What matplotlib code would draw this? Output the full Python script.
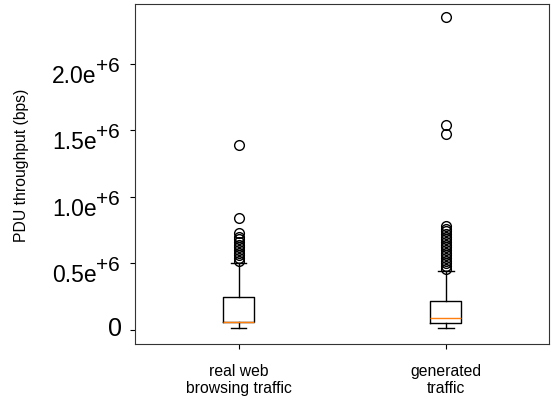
import matplotlib
matplotlib.use("Agg")
import matplotlib.pyplot as plt
from matplotlib.ticker import FixedLocator, NullFormatter

# box statistics (bps)
labels = ["real web\nbrowsing traffic", "generated\ntraffic"]
whislo = [0.015e6, 0.015e6]
q1 = [0.06e6, 0.05e6]
med = [0.06e6, 0.09e6]
q3 = [0.248e6, 0.22e6]
whishi = [0.50e6, 0.44e6]
fliers_real = [0.52e6, 0.54e6, 0.56e6, 0.58e6, 0.60e6, 0.62e6, 0.64e6,
               0.66e6, 0.68e6, 0.70e6, 0.73e6, 0.84e6, 1.39e6]
fliers_gen = [0.46e6, 0.48e6, 0.50e6, 0.52e6, 0.54e6, 0.56e6, 0.58e6,
              0.60e6, 0.62e6, 0.64e6, 0.66e6, 0.68e6, 0.70e6, 0.72e6,
              0.74e6, 0.76e6, 0.78e6, 1.47e6, 1.54e6, 2.35e6]
fliers = [fliers_real, fliers_gen]

ytick_vals = [0, 0.5e6, 1.0e6, 1.5e6, 2.0e6]
ytick_base = ["0", "0.5e", "1.0e", "1.5e", "2.0e"]
ytick_exp = ["", "+6", "+6", "+6", "+6"]

plt.rcParams['font.family'] = ['Liberation Sans', 'DejaVu Sans']

stats = []
for i in range(len(labels)):
    stats.append(dict(label=labels[i], whislo=whislo[i], q1=q1[i], med=med[i],
                      q3=q3[i], whishi=whishi[i], fliers=fliers[i]))

fig = plt.figure(figsize=(5.51, 4.02), dpi=100)
ax = fig.add_axes([0.245, 0.142, 0.752, 0.846])
ax.bxp(stats, showfliers=True,
       flierprops=dict(marker='o', markerfacecolor='none', markeredgecolor='black', markersize=7))

ax.set_ylim(-0.105e6, 2.45e6)
ax.yaxis.set_major_locator(FixedLocator(ytick_vals))
ax.yaxis.set_major_formatter(NullFormatter())

# tick labels like "2.0e^{+6}" with a large superscript
for v, b, e in zip(ytick_vals, ytick_base, ytick_exp):
    if e == "":
        ax.annotate(b, xy=(0, v), xycoords=('axes fraction', 'data'),
                    xytext=(-9.5, -4), textcoords='offset points',
                    ha='right', va='baseline', fontsize=18)
    else:
        ax.annotate(b, xy=(0, v), xycoords=('axes fraction', 'data'),
                    xytext=(-27.5, -13), textcoords='offset points',
                    ha='right', va='baseline', fontsize=16.5)
        ax.annotate(e, xy=(0, v), xycoords=('axes fraction', 'data'),
                    xytext=(-28.3, -5), textcoords='offset points',
                    ha='left', va='baseline', fontsize=15)

ax.tick_params(axis='x', labelsize=11.3, pad=10)
ax.set_ylabel("PDU throughput (bps)", fontsize=11.3)
ax.yaxis.set_label_coords(-0.257, 0.527)

for s in ax.spines.values():
    s.set_color('#333333')

plt.savefig("out.png", dpi=100)
